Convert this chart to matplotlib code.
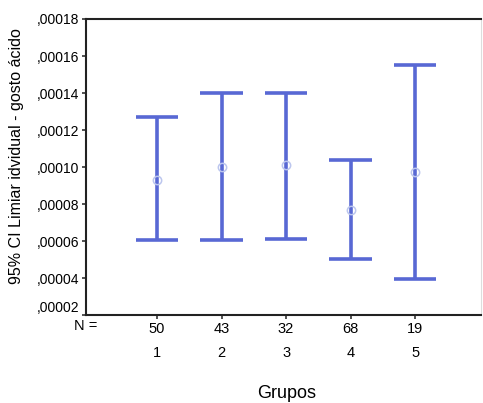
import matplotlib
matplotlib.use("Agg")
import matplotlib.pyplot as plt
import matplotlib.ticker as mticker
import matplotlib.transforms as mtransforms

plt.rcParams["font.family"] = ["Liberation Sans", "DejaVu Sans"]

# Data: 95% CI per group
groups = [1, 2, 3, 4, 5]
n_sizes = [50, 43, 32, 68, 19]
means = [0.0000930, 0.0001000, 0.0001010, 0.0000768, 0.0000973]
ci_low = [0.0000605, 0.0000605, 0.0000613, 0.0000503, 0.0000395]
ci_high = [0.0001270, 0.0001400, 0.0001400, 0.0001038, 0.0001551]
y_ticks = [0.00002, 0.00004, 0.00006, 0.00008, 0.00010, 0.00012, 0.00014, 0.00016, 0.00018]

BLUE = "#5868d4"

fig = plt.figure(figsize=(4.83, 4.03), dpi=100)
ax = fig.add_axes([86 / 483, 1 - 315 / 403, (481 - 86) / 483, (315 - 19) / 403])

cap = 0.33
for g, lo, hi, m in zip(groups, ci_low, ci_high, means):
    ax.plot([g, g], [lo, hi], color=BLUE, lw=2.6, solid_capstyle="butt")
    ax.plot([g - cap, g + cap], [lo, lo], color=BLUE, lw=2.6, solid_capstyle="butt")
    ax.plot([g - cap, g + cap], [hi, hi], color=BLUE, lw=2.6, solid_capstyle="butt")
    ax.plot(g, m, marker="o", ms=6, mfc="none", mec="#bcc6ee", mew=1.1)

ax.set_xlim(-0.1, 6.02)
ax.set_ylim(0.00002, 0.00018)

ax.set_yticks(y_ticks)
ax.yaxis.set_major_formatter(
    mticker.FuncFormatter(lambda v, _: ("%.5f" % v).lstrip("0").replace(".", ","))
)
ax.set_xticks(groups)
ax.set_xticklabels([f"{n}\n{g}" for n, g in zip(n_sizes, groups)], linespacing=1.9)
ax.tick_params(axis="y", labelsize=10, length=3, width=1.2, color="#333333", pad=2)
ax.tick_params(axis="x", labelsize=10.5, length=3, width=1.2, color="#333333", pad=2)

# lift the bottom tick label so it clears the "N =" row
fig.canvas.draw()
lowest = ax.get_yticklabels()[0]
lowest.set_transform(lowest.get_transform() + mtransforms.ScaledTranslation(0, 6 / 72, fig.dpi_scale_trans))

for side in ["left", "bottom", "top"]:
    ax.spines[side].set_linewidth(1.5)
    ax.spines[side].set_color("#222222")
ax.spines["right"].set_color("#dddddd")
ax.spines["right"].set_linewidth(0.8)

trans = mtransforms.blended_transform_factory(ax.transAxes, fig.transFigure)
ax.text(0.0, 1 - 326 / 403, "N =", transform=trans, ha="center", va="center", fontsize=10.5)

fig.text(287 / 483, 1 - 393 / 403, "Grupos", ha="center", va="center", fontsize=13)
fig.text(17 / 483, 1 - 156 / 403, "95% CI Limiar idvidual - gosto ácido",
         rotation=90, ha="center", va="center", fontsize=11.5)

fig.savefig("out.png", dpi=100)
